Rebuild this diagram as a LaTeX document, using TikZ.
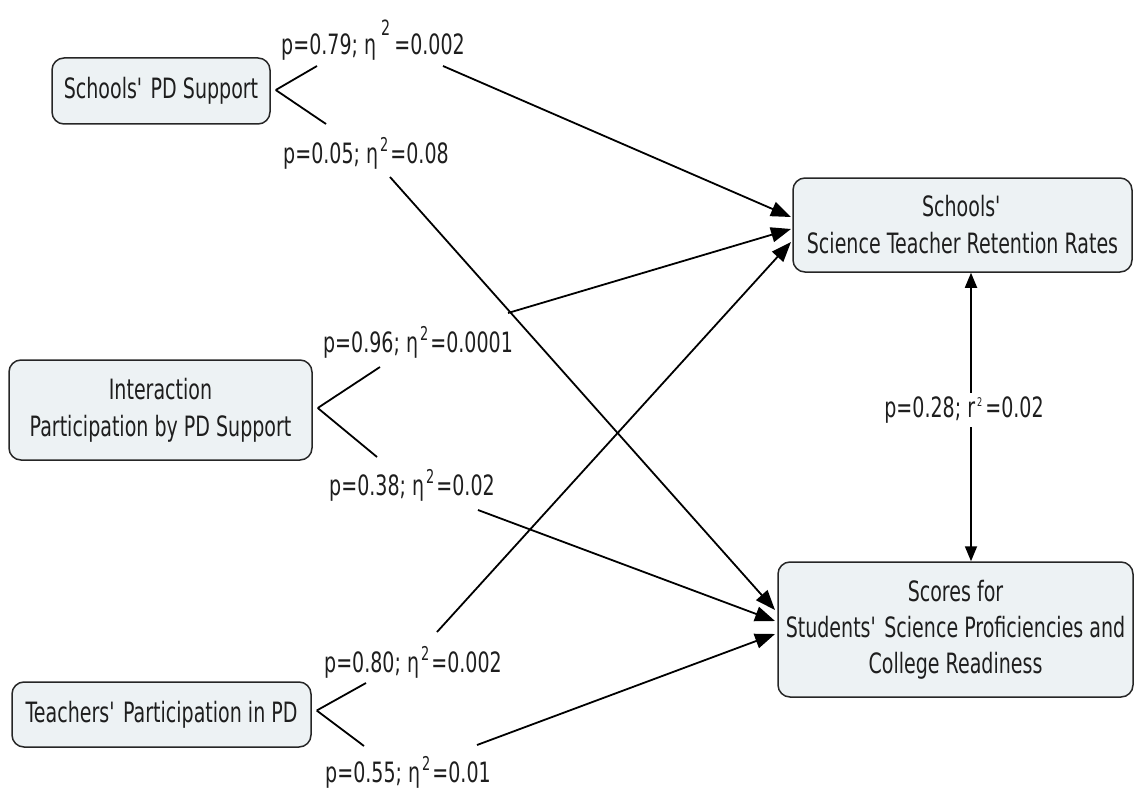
\documentclass[tikz,border=0pt]{standalone}
\usepackage{fontspec}
\setmainfont[FakeStretch=0.68]{DejaVu Sans}
\usetikzlibrary{arrows.meta,calc}
\definecolor{boxfill}{HTML}{EDF2F4}
\definecolor{boxline}{HTML}{262626}
\definecolor{inkgray}{HTML}{1E1E1E}
% superscripts used in the effect-size labels
\newcommand{\hisup}[1]{\raisebox{19pt}{\fontsize{21}{21}\selectfont #1}}
\newcommand{\losup}[1]{\hspace{2pt}\raisebox{12pt}{\fontsize{19}{19}\selectfont #1}\hspace{2pt}}
\newcommand{\tinysup}[1]{\raisebox{11pt}{\fontsize{12}{12}\selectfont #1}}
\newcommand{\apos}{\textquotesingle}
\begin{document}
\begin{tikzpicture}[x=1pt,y=-1pt,
  concept/.style={draw=boxline, line width=1.5pt, fill=boxfill,
    rounded corners=12pt, align=center, inner sep=0pt, text=inkgray,
    font=\fontsize{28}{37}\selectfont},
  stat/.style={inner sep=1pt, text=inkgray, font=\fontsize{28}{30}\selectfont},
  link/.style={line width=1.8pt, black},
  arr/.style={link, -{Triangle[length=20pt,width=15pt]}},
  biarr/.style={link, {Triangle[length=15pt,width=12pt]}-{Triangle[length=15pt,width=12pt]}},
]
\useasboundingbox (0,0) rectangle (1135,789);

% concept boxes
\node[concept, minimum width=218pt, minimum height=66pt] (SPD) at (161,91) {Schools\apos{} PD Support};
\node[concept, minimum width=303pt, minimum height=100pt] (INT) at (160.5,410) {Interaction\\Participation by PD Support};
\node[concept, minimum width=299pt, minimum height=65pt] (TPD) at (161.5,714.5) {Teachers\apos{} Participation in PD};
\node[concept, minimum width=339pt, minimum height=94pt] (RET) at (962.5,225) {Schools\apos\\Science Teacher Retention Rates};
\node[concept, minimum width=355pt, minimum height=135pt, font=\fontsize{28}{36}\selectfont] (SCO) at (955.5,629.5) {Scores for\\Students\apos{} Science Proficiencies and\\College Readiness};

% effect-size labels
\node[stat] (L1) at (373,40) {p=0.79; η\hspace{5pt}\hisup{2}\hspace{4pt}=0.002};
\node[stat] (L2) at (366,153) {p=0.05; η\losup{2}=0.08};
\node[stat] (L3) at (418,342) {p=0.96; η\losup{2}=0.0001};
\node[stat] (L4) at (412,485) {p=0.38; η\losup{2}=0.02};
\node[stat] (L5) at (413,662) {p=0.80; η\losup{2}=0.002};
\node[stat] (L6) at (408,772) {p=0.55; η\losup{2}=0.01};

% fork points beside the predictor boxes
\coordinate (spdU) at (317,66);  \coordinate (spdD) at (326,124);
\coordinate (intU) at (380,367); \coordinate (intD) at (377,457);
\coordinate (tpdU) at (366,683); \coordinate (tpdD) at (364,746);

\draw[link] ($(SPD.east)+(5,-1)$) -- (spdU);
\draw[link] ($(SPD.east)+(5,-1)$) -- (spdD);
\draw[link] ($(INT.east)+(5,-2)$) -- (intU);
\draw[link] ($(INT.east)+(5,-2)$) -- (intD);
\draw[link] ($(TPD.east)+(5,-4)$) -- (tpdU);
\draw[link] ($(TPD.east)+(5,-4)$) -- (tpdD);

% starts of the long paths
\coordinate (s1) at (443,66);
\coordinate (s2) at (390,177);
\coordinate (s3) at (508,313);
\coordinate (s4) at (478,510);
\coordinate (s5) at (437,632);
\coordinate (s6) at (477,745);

% arrow tips at the outcome boxes
\coordinate (r1) at (791,217);
\coordinate (r2) at (791,229);
\coordinate (r3) at (791,242);
\coordinate (c1) at (775,610);
\coordinate (c2) at (775,621);
\coordinate (c3) at (775,634);

\draw[arr] (s1) -- (r1);
\draw[arr] (s3) -- (r2);
\draw[arr] (s5) -- (r3);
\draw[arr] (s2) -- (c1);
\draw[arr] (s4) -- (c2);
\draw[arr] (s6) -- (c3);

% correlation between the two outcomes
\coordinate (corr) at (971,410);
\draw[biarr] (RET.south -| corr) -- (SCO.north -| corr);
\node[stat, fill=white, inner sep=4pt] (L7) at (964,410) {p=0.28; r\hspace{2pt}\tinysup{2}\hspace{3pt}=0.02};
\end{tikzpicture}
\end{document}
